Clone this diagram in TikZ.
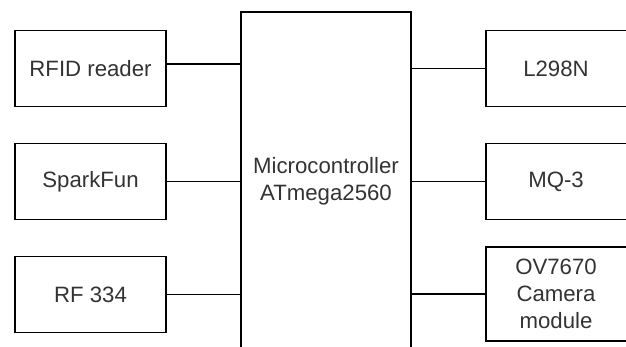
\documentclass[tikz,border=0pt]{standalone}
\usepackage{fontspec}
\setmainfont{Liberation Sans}
\definecolor{txt}{HTML}{333333}
\begin{document}
\begin{tikzpicture}[x=1pt,y=-1pt,
  blk/.style={draw=black,line width=1.2pt,fill=white,inner sep=0pt,align=center,
    text=txt,font=\fontsize{22.2}{27}\selectfont},
  wire/.style={draw=black,line width=1.2pt}]
\useasboundingbox (0,0) rectangle (626,347);
\clip (0,0) rectangle (626,347);
% central block
\node[blk,minimum width=170pt,minimum height=360pt] (mc) at (326,192) {};
\node[text=txt,font=\fontsize{22.2}{27}\selectfont,align=center] (mct) at (326,181) {Microcontroller\\ATmega2560};
% left blocks
\node[blk,minimum width=151pt,minimum height=76pt] (rfid) at (90.5,68.5) {RFID reader};
\node[blk,minimum width=151pt,minimum height=76pt] (spark) at (90.5,181.3) {SparkFun};
\node[blk,minimum width=151pt,minimum height=76pt] (rf) at (90.5,294.5) {RF 334};
% right blocks
\node[blk,minimum width=150pt,minimum height=76pt,text width=140pt] (l298) at (561,68.4) {\hspace*{-10pt}L298N};
\node[blk,minimum width=150pt,minimum height=76pt,text width=140pt] (mq) at (561,181.5) {\hspace*{-10pt}MQ-3};
\node[blk,minimum width=150pt,minimum height=94pt,text width=140pt] (ov) at (561,294) {\hspace*{-10pt}OV7670\\\hspace*{-10pt}Camera\\\hspace*{-10pt}module};
% connectors
\coordinate (rfidp) at ([yshift=4.5pt]rfid.east);
\draw[wire] (rfidp) -- (rfidp -| mc.west);
\draw[wire] (spark.east) -- (spark.east -| mc.west);
\draw[wire] (rf.east) -- (rf.east -| mc.west);
\draw[wire] (l298.west) -- (l298.west -| mc.east);
\draw[wire] (mq.west) -- (mq.west -| mc.east);
\draw[wire] (ov.west) -- (ov.west -| mc.east);
\end{tikzpicture}
\end{document}
